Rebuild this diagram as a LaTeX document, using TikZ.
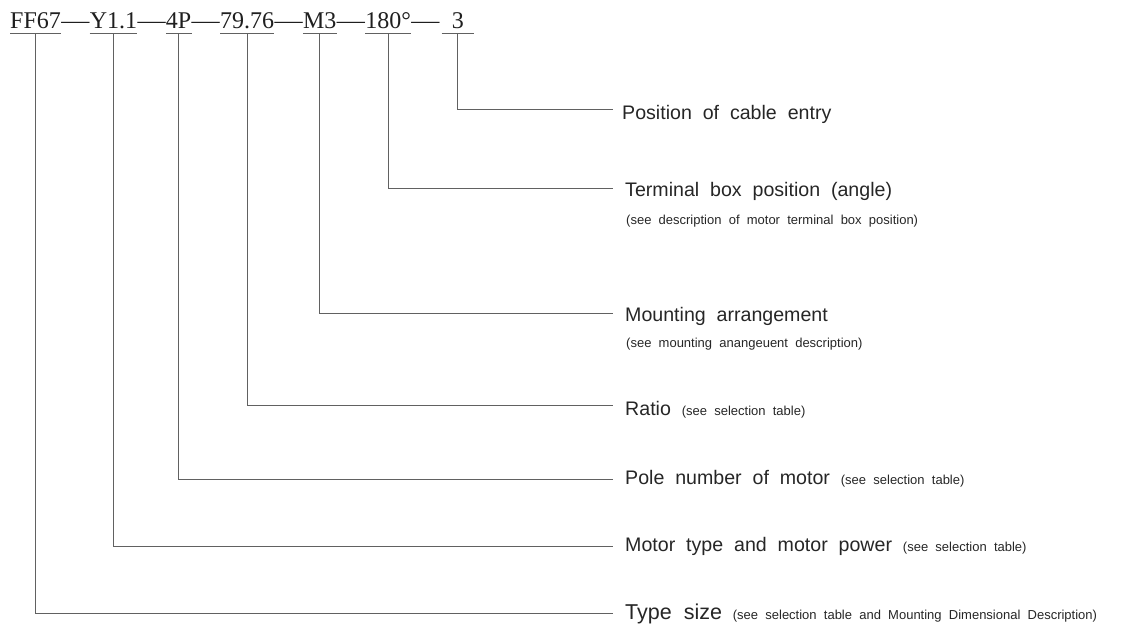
\documentclass[tikz,border=0pt]{standalone}
\usepackage{fontspec}
\setmainfont{Liberation Serif}
\setsansfont{Liberation Sans}[WordSpace=2]
\usetikzlibrary{positioning}

\newcommand{\aside}[1]{{\fontsize{13}{15}\selectfont #1}}
\newcommand{\wdash}{\scalebox{1.17}[1]{---}}

\begin{document}
\begin{tikzpicture}[x=1pt, y=-1pt, node distance=0pt,
  code/.style={inner sep=0pt, font=\fontsize{24}{28}\selectfont, text=black!88},
  lead/.style={draw=black!62, line width=0.9pt},
  desc/.style={anchor=base west, inner sep=0pt,
               font=\sffamily\fontsize{19.6}{22}\selectfont, text=black!85}]
  \useasboundingbox (0,0) rectangle (1127,624);

  % designation string
  \node[code, anchor=base west] (ff) at (10,28) {FF67};
  \node[code, base right=of ff] (d1) {\wdash};
  \node[code, base right=of d1] (y) {Y1.1};
  \node[code, base right=of y] (d2) {\wdash};
  \node[code, base right=of d2] (pp) {4P};
  \node[code, base right=of pp] (d3) {\wdash};
  \node[code, base right=of d3] (rt) {79.76};
  \node[code, base right=of rt] (d4) {\wdash};
  \node[code, base right=of d4] (mm) {M3};
  \node[code, base right=of mm] (d5) {\wdash};
  \node[code, base right=of d5] (ang) {180°};
  \node[code, base right=of ang] (d6) {\wdash};
  \node[code, base right=2pt of d6, minimum width=32pt] (cab) {3};

  % underlines
  \foreach \n in {ff, y, pp, rt, mm, ang, cab}
    \draw[lead] ([yshift=-5pt]\n.base west) -- ([yshift=-5pt]\n.base east);

  % line ends
  \coordinate (e-cab) at (613,109);
  \coordinate (e-ang) at (613,188);
  \coordinate (e-mm)  at (613,313);
  \coordinate (e-rt)  at (613,405);
  \coordinate (e-pp)  at (613,479);
  \coordinate (e-y)   at (613,546);
  \coordinate (e-ff)  at (613,613);

  % leaders
  \foreach \n in {ff, y, pp, rt, mm, ang, cab}
    \draw[lead] ([yshift=-5pt]\n.base) |- (e-\n);

  % descriptions
  \node[desc] (t-cab) at (622,119) {Position of cable entry};
  \node[desc] (t-ang) at (625,196) {Terminal box position (angle)};
  \node[desc, font=\sffamily\fontsize{13}{15}\selectfont] (n-ang) at (626,224)
    {(see description of motor terminal box position)};
  \node[desc] (t-mm) at (625,321) {Mounting arrangement};
  \node[desc, font=\sffamily\fontsize{13}{15}\selectfont] (n-mm) at (626,347)
    {(see mounting anangeuent description)};
  \node[desc] (t-rt) at (625,415) {Ratio \aside{(see selection table)}};
  \node[desc] (t-pp) at (625,484) {Pole number of motor \aside{(see selection table)}};
  \node[desc] (t-y) at (625,551) {Motor type and motor power \aside{(see selection table)}};
  \node[desc] (t-ff) at (625,619)
    {{\fontsize{21.5}{24}\selectfont Type size} \aside{(see selection table and Mounting Dimensional Description)}};
\end{tikzpicture}
\end{document}
